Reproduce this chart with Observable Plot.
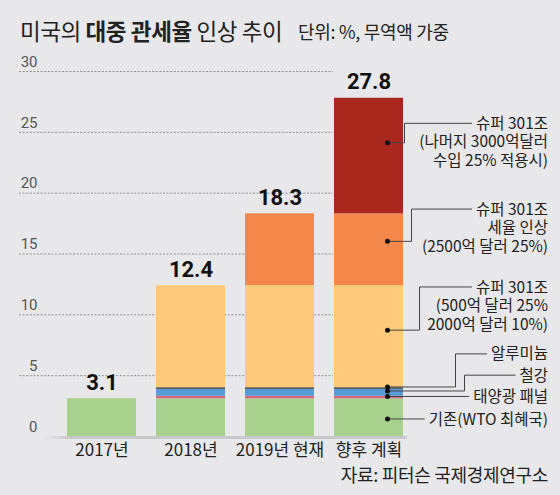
<!DOCTYPE html>
<html><head><meta charset="utf-8">
<script src="https://cdn.jsdelivr.net/npm/d3@7"></script>
<script src="https://cdn.jsdelivr.net/npm/@observablehq/plot@0.6"></script>
<style>
html,body{margin:0;padding:0;background:#e8e8ea;}
#wrap{width:560px;height:495px;position:relative;overflow:hidden;background:#e8e8ea;font-family:"Noto Sans CJK KR","Noto Sans",sans-serif;}
#title{height:50px;position:relative;}
#title .main{position:absolute;left:20px;top:16px;font-size:22.5px;line-height:28px;color:#222;letter-spacing:-0.4px;white-space:nowrap;}
#title .main b{font-weight:700;}
#title .unit{position:absolute;left:298px;top:19px;font-size:18px;line-height:24px;color:#222;letter-spacing:-0.3px;white-space:nowrap;}
#source{position:absolute;right:12px;top:461px;font-size:18px;line-height:26px;color:#222;letter-spacing:-0.3px;white-space:nowrap;}
#chart svg{display:block;}
</style>
</head><body>
<div id="wrap">
  <div id="title"><span class="main">미국의 <b>대중 관세율</b> 인상 추이</span><span class="unit">단위: %, 무역액 가중</span></div>
  <div id="chart"></div>
  <div id="source">자료: 피터슨 국제경제연구소</div>
</div>
<script>
// ---- data ----
const categories = ["2017년", "2018년", "2019년 현재", "향후 계획"];
const components = ["기존", "태양광 패널", "철강", "알루미늄", "슈퍼 301조 1차", "슈퍼 301조 세율 인상", "슈퍼 301조 나머지"];
const baseRate   = [3.1, 3.1, 3.1, 3.1];
const solarPanel = [0, 0.2, 0.2, 0.2];
const steel      = [0, 0.6, 0.6, 0.6];
const aluminum   = [0, 0.1, 0.1, 0.1];
const super301a  = [0, 8.4, 8.4, 8.4];
const super301b  = [0, 0, 5.9, 5.9];
const super301c  = [0, 0, 0, 9.5];
const totals     = [3.1, 12.4, 18.3, 27.8];
const yTicks     = [0, 5, 10, 15, 20, 25, 30];
const colors     = ["#a8d18d", "#d8647f", "#5b9bd5", "#111111", "#fec97a", "#f4884a", "#a8281e"];
const annotationTexts = [
  ["슈퍼 301조", "(나머지 3000억달러", "수입 25% 적용시)"],
  ["슈퍼 301조", "세율 인상", "(2500억 달러 25%)"],
  ["슈퍼 301조", "(500억 달러 25%", "2000억 달러 10%)"],
  ["알루미늄"],
  ["철강"],
  ["태양광 패널"],
  ["기존(WTO 최혜국)"]
];
// annotation anchor values (in %)
const annotationDotY   = [24.1, 16.0, 8.7, 4.03, 3.7, 3.25, 1.4];
const annotationLabelY = [25.7, 18.65, 12.25, 6.75, 5.0, 3.25, 1.4];

// ---- table ----
const series = [baseRate, solarPanel, steel, aluminum, super301a, super301b, super301c];
const table = [];
components.forEach((c, i) => categories.forEach((cat, j) => table.push({category: cat, component: c, value: series[i][j]})));
const totalTable = categories.map((c, j) => ({category: c, total: totals[j]}));

const FONT_KR = "Noto Sans CJK KR";
const chart = Plot.plot({
  width: 560,
  height: 412,
  marginTop: 21,
  marginBottom: 26,
  marginLeft: 19,
  marginRight: 227,
  style: {background: "transparent", overflow: "visible"},
  x: {domain: categories, range: [66, 404], paddingInner: 0.23, paddingOuter: 0, label: null},
  y: {domain: [0, 30], label: null},
  color: {domain: components, range: colors},
  marks: [
    Plot.gridY(yTicks.filter(d => d > 0), {stroke: "#7a7a7a", strokeOpacity: 1, strokeWidth: 0.8, strokeDasharray: "2,1.6"}),
    Plot.barY(table, {x: "category", y: "value", fill: "component", order: components}),
    Plot.axisY(yTicks, {tickSize: 0, tickPadding: 0, dx: 18, dy: -9.5, fontSize: 15, fontFamily: "Roboto", color: "#555"}),
    Plot.axisX({tickSize: 0, tickPadding: 7, fontSize: 17, fontFamily: FONT_KR, color: "#222"}),
    Plot.text(totalTable, {x: "category", y: "total", text: d => d.total.toFixed(1), dy: -16, fontSize: 22, fontWeight: "bold", fontFamily: "Roboto", fill: "#111"})
  ]
});
document.getElementById("chart").appendChild(chart);

// ---- baseline shadow + annotations, positioned from the chart's scales ----
const xs = chart.scale("x"), ys = chart.scale("y");
const svg = d3.select(chart);
const y0 = ys.apply(0);
const defs = svg.insert("defs", ":first-child");
const grad = defs.append("linearGradient").attr("id", "shade").attr("x1", 0).attr("x2", 1);
grad.append("stop").attr("offset", 0).attr("stop-color", "#cfcfd1").attr("stop-opacity", 0);
grad.append("stop").attr("offset", 0.08).attr("stop-color", "#c9c9cb").attr("stop-opacity", 1);
grad.append("stop").attr("offset", 1).attr("stop-color", "#c9c9cb").attr("stop-opacity", 1);
const xStart = xs.apply(categories[0]) - 26;
const xEnd = xs.apply(categories[3]) + xs.bandwidth + 4;
svg.append("rect").attr("x", xStart).attr("y", y0).attr("width", xEnd - xStart).attr("height", 3).attr("fill", "url(#shade)");

const dotX = xs.apply(categories[3]) + xs.bandwidth / 2 + 19;
const rightEdge = 548;
const FS = 15.5;
const elbowDx = [17, 24, 32, 68, 77, null, null];
const ctx = document.createElement("canvas").getContext("2d");
ctx.font = `${FS}px "${FONT_KR}"`;
const g = svg.append("g").attr("font-family", FONT_KR).attr("font-size", FS).attr("fill", "#222");
annotationTexts.forEach((lines, i) => {
  const dy = ys.apply(annotationDotY[i]);
  const ly = ys.apply(annotationLabelY[i]);
  const w = ctx.measureText(lines[0]).width;
  const lineEnd = rightEdge - w - 4;
  let pts;
  if (elbowDx[i] == null) pts = [[dotX, dy], [lineEnd, dy]];
  else pts = [[dotX, dy], [dotX + elbowDx[i], dy], [dotX + elbowDx[i], ly], [lineEnd, ly]];
  g.append("path").attr("d", d3.line()(pts)).attr("fill", "none").attr("stroke", "#444").attr("stroke-width", 1);
  g.append("circle").attr("cx", dotX).attr("cy", dy).attr("r", 2.5).attr("fill", "#111");
  const t = g.append("text").attr("text-anchor", "end").attr("y", ly);
  lines.forEach((s, k) => t.append("tspan").attr("x", rightEdge).attr("dy", k === 0 ? "0.36em" : 18.5).text(s));
});
</script>
</body></html>
